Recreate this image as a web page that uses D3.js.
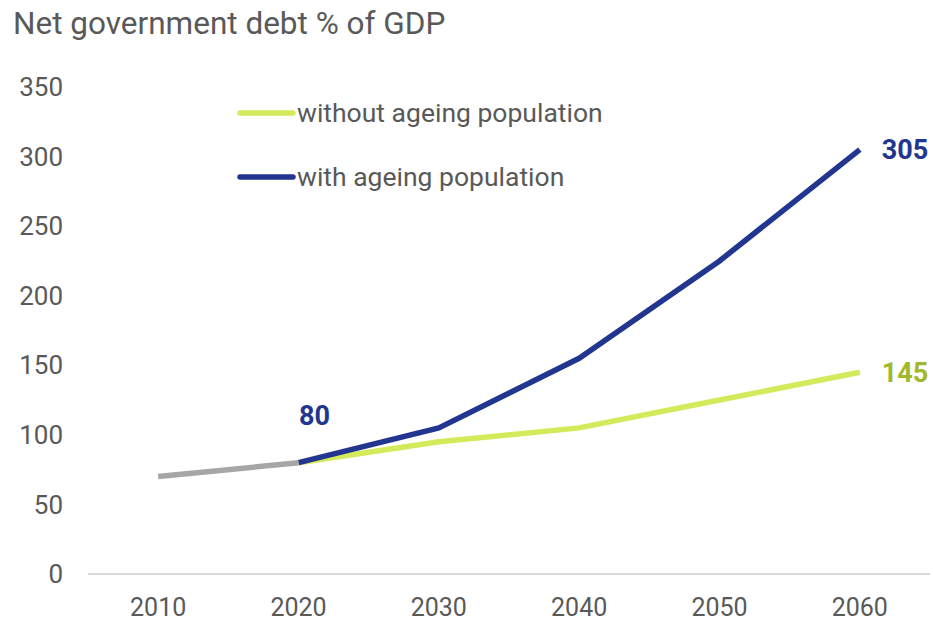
<!DOCTYPE html>
<html>
<head>
<meta charset="utf-8">
<script src="https://cdn.jsdelivr.net/npm/d3@7"></script>
<style>
  body { margin: 0; background: #fff; }
  text { font-family: Roboto, "Noto Sans", sans-serif; }
</style>
</head>
<body>
<svg id="chart" width="933" height="622"></svg>
<script>
// Data
const years = [2010, 2020, 2030, 2040, 2050, 2060];
const historical = [70, 80];                       // 2010-2020
const withoutAgeing = [null, 80, 95, 105, 125, 145];
const withAgeing = [null, 80, 105, 155, 225, 305];
const yTicks = [0, 50, 100, 150, 200, 250, 300, 350];

const colors = {
  hist: '#a6a6a6',
  without: '#d4ea5a',
  with: '#22368f',
  withoutLabel: '#a2b82c',
  text: '#595959',
  axis: '#d9d9d9'
};

const svg = d3.select('#chart');
const margin = { left: 88, right: 3, top: 87, bottom: 48 };
const width = 933, height = 622;

const x = d3.scalePoint()
  .domain(years)
  .range([margin.left, width - margin.right])
  .padding(0.5);

const y = d3.scaleLinear()
  .domain([0, 350])
  .range([height - margin.bottom, margin.top]);

// title
svg.append('text')
  .attr('x', 13)
  .attr('y', 34)
  .attr('fill', colors.text)
  .style('font-size', '31.5px')
  .text('Net government debt % of GDP');

// y tick labels (no gridlines)
svg.selectAll('.ylab')
  .data(yTicks)
  .enter()
  .append('text')
  .attr('class', 'ylab')
  .attr('x', 63)
  .attr('y', d => y(d))
  .attr('dy', '0.35em')
  .attr('text-anchor', 'end')
  .attr('fill', colors.text)
  .style('font-size', '26px')
  .text(d => d);

// baseline
svg.append('line')
  .attr('x1', margin.left)
  .attr('x2', width - margin.right)
  .attr('y1', y(0))
  .attr('y2', y(0))
  .attr('stroke', colors.axis)
  .attr('stroke-width', 2);

// x tick labels
svg.selectAll('.xlab')
  .data(years)
  .enter()
  .append('text')
  .attr('class', 'xlab')
  .attr('x', d => x(d))
  .attr('y', 616)
  .attr('text-anchor', 'middle')
  .attr('fill', colors.text)
  .style('font-size', '25px')
  .text(d => d);

let line = d3.line()
  .defined(d => d.v != null)
  .x(d => x(d.year))
  .y(d => y(d.v));

function series(vals) {
  return years.map((yr, i) => ({ year: yr, v: i < vals.length ? vals[i] : null }));
}

svg.append('path')
  .datum(series(withoutAgeing))
  .attr('d', line)
  .attr('fill', 'none')
  .attr('stroke', colors.without)
  .attr('stroke-width', 5.5);

svg.append('path')
  .datum(series(withAgeing))
  .attr('d', line)
  .attr('fill', 'none')
  .attr('stroke', colors.with)
  .attr('stroke-width', 5.5);

svg.append('path')
  .datum(series(historical))
  .attr('d', line)
  .attr('fill', 'none')
  .attr('stroke', colors.hist)
  .attr('stroke-width', 5.5);

// value labels
svg.append('text')
  .attr('x', x(2020) + 16)
  .attr('y', y(80) - 38)
  .attr('text-anchor', 'middle')
  .attr('fill', colors.with)
  .style('font-size', '27px')
  .style('font-weight', 'bold')
  .text(withAgeing[1]);

svg.append('text')
  .attr('x', x(2060) + 22)
  .attr('y', y(305))
  .attr('dy', '0.35em')
  .attr('fill', colors.with)
  .style('font-size', '27px')
  .style('font-weight', 'bold')
  .text(withAgeing[5]);

svg.append('text')
  .attr('x', x(2060) + 22)
  .attr('y', y(145))
  .attr('dy', '0.35em')
  .attr('fill', colors.withoutLabel)
  .style('font-size', '27px')
  .style('font-weight', 'bold')
  .text(withoutAgeing[5]);

// legend
const legend = [
  { name: 'without ageing population', color: colors.without, y: 113 },
  { name: 'with ageing population', color: colors.with, y: 177 }
];
const lg = svg.selectAll('.legend')
  .data(legend)
  .enter()
  .append('g')
  .attr('class', 'legend');
lg.append('line')
  .attr('x1', 240).attr('x2', 293)
  .attr('y1', d => d.y).attr('y2', d => d.y)
  .attr('stroke', d => d.color)
  .attr('stroke-width', 5.5)
  .attr('stroke-linecap', 'round');
lg.append('text')
  .attr('x', 297)
  .attr('y', d => d.y)
  .attr('dy', '0.35em')
  .attr('fill', colors.text)
  .style('font-size', '26.5px')
  .text(d => d.name);
</script>
</body>
</html>
